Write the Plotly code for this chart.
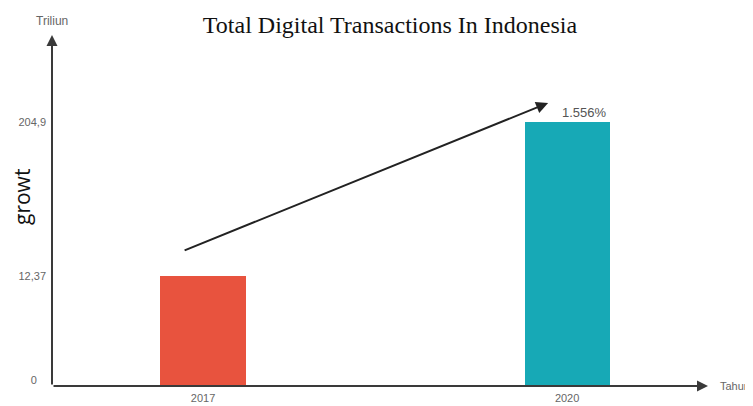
import plotly.graph_objects as go

# Data
years = ["2017", "2020"]
values = [12.37, 204.9]
bar_colors = ["#E8533E", "#17A9B6"]
growth_label = "1.556%"
ytick_text = ["0&nbsp;&nbsp;&nbsp;", "12,37", "204,9"]

title = "Total Digital Transactions In Indonesia"

r0, r1 = 0.221, 2.960  # log10 range of the value axis

# page body has an 8px margin, so the figure is 8px smaller than the window
W, H = 745, 398
PL, PR, PT, PB = 44, 700, 32, 378  # plot area in figure pixels
pw, ph = PR - PL, PB - PT

fig = go.Figure()
fig.add_trace(go.Bar(
    x=years, y=values, marker=dict(color=bar_colors, line=dict(width=0)),
    width=0.234, showlegend=False, hoverinfo="x+y",
))

tick_font = dict(family="Liberation Sans, Arial", size=11, color="#666")

fig.update_layout(
    width=W, height=H,
    margin=dict(l=PL, r=W - PR, t=PT, b=H - PB, autoexpand=False),
    plot_bgcolor="white", paper_bgcolor="white",
    title=dict(text=title, x=(390-8)/W, xref="container", xanchor="center",
               y=1-(25-8)/H, yanchor="middle",
               font=dict(family="Liberation Serif, Times New Roman", size=24, color="#111")),
    xaxis=dict(type="category", range=[-0.415, 1.387], showgrid=False, showline=False,
               zeroline=False, ticks="", tickfont=tick_font, ticklabelstandoff=4,
               automargin=False),
    yaxis=dict(type="log", range=[r0, r1], showgrid=False, showline=False, zeroline=False,
               ticks="", tickvals=[10**(r0+0.045), values[0], values[1]],
               ticktext=ytick_text, tickfont=tick_font, ticklabelstandoff=5,
               automargin=False),
    bargap=0,
)

def px_x(x):  # window pixel -> paper x
    return (x - 8 - PL) / pw

def px_y(y):  # window pixel -> paper y
    return (PB - (y - 8)) / ph

axis_color = "#3a3a3a"
ann = []
# y axis arrow
ann.append(dict(xref="paper", yref="paper", x=0, y=px_y(35), axref="pixel", ayref="pixel",
                ax=0, ay=351, text="", showarrow=True, arrowhead=2, arrowsize=1.1,
                arrowwidth=2, arrowcolor=axis_color))
# x axis arrow
ann.append(dict(xref="paper", yref="paper", x=1.0, y=0, axref="pixel", ayref="pixel",
                ax=-pw, ay=0, text="", showarrow=True, arrowhead=2, arrowsize=1.1,
                arrowwidth=2, arrowcolor=axis_color))
# axis labels
ann.append(dict(xref="paper", yref="paper", x=0, y=px_y(21), text="Triliun",
                showarrow=False, xanchor="center", yanchor="middle",
                font=dict(family="Liberation Sans, Arial", size=12, color="#666")))
ann.append(dict(xref="paper", yref="paper", x=px_x(718), y=0, text="Tahun",
                showarrow=False, xanchor="left", yanchor="middle",
                font=dict(family="Liberation Sans, Arial", size=11, color="#666")))
ann.append(dict(xref="paper", yref="paper", x=px_x(22), y=px_y(197), text="growt",
                textangle=-90, showarrow=False, xanchor="center", yanchor="middle",
                font=dict(family="Open Sans", size=21, color="#111")))
# growth arrow
ann.append(dict(xref="x", yref="paper", x=(548-203)/364, y=px_y(103),
                axref="pixel", ayref="pixel", ax=-365, ay=148, text="", showarrow=True,
                arrowhead=2, arrowsize=1.2, arrowwidth=2, arrowcolor="#222"))
ann.append(dict(xref="x", yref="paper", x=(560-203)/364, y=px_y(112), text=growth_label,
                showarrow=False, xanchor="left", yanchor="middle",
                font=dict(family="Liberation Sans, Arial", size=13, color="#555")))
fig.update_layout(annotations=ann)

fig.write_html("out.html")
